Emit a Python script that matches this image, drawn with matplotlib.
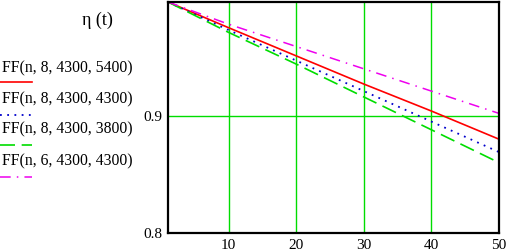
import matplotlib
matplotlib.use("Agg")
import matplotlib.pyplot as plt
from matplotlib.lines import Line2D

n = [1, 10, 20, 30, 40, 50]
ff_8_4300_5400 = [0.997, 0.975, 0.951, 0.927, 0.904, 0.880]
ff_8_4300_4300 = [0.997, 0.973, 0.947, 0.921, 0.895, 0.869]
ff_8_4300_3800 = [0.997, 0.971, 0.944, 0.916, 0.888, 0.860]
ff_6_4300_4300 = [0.997, 0.978, 0.959, 0.940, 0.921, 0.902]
labels = ["FF(n, 8, 4300, 5400)", "FF(n, 8, 4300, 4300)",
          "FF(n, 8, 4300, 3800)", "FF(n, 6, 4300, 4300)"]
xticks = [10, 20, 30, 40, 50]
yticks = [0.8, 0.9]

plt.rcParams['font.family'] = ['Liberation Serif', 'DejaVu Serif']

fig = plt.figure(figsize=(5.07, 2.52), dpi=100)
ax = fig.add_axes([168/507, 19/252, 331/507, 231/252])

series = [ff_8_4300_5400, ff_8_4300_4300, ff_8_4300_3800, ff_6_4300_4300]
styles = [dict(color='#ff0000', ls='-', lw=1.2),
          dict(color='#0000cc', ls=(0, (1, 3)), lw=1.3),
          dict(color='#00dd00', ls=(0, (9, 4)), lw=1.2),
          dict(color='#ee00ee', ls=(0, (7, 4, 1, 4)), lw=1.1)]
for ys, st in zip(series, styles):
    ax.plot(n, ys, **st)

ax.set_xlim(1, 50)
ax.set_ylim(0.8, 0.997)
ax.set_xticks(xticks)
ax.set_yticks(yticks)
ax.grid(True, color='#00dd00', lw=1.0)
ax.set_axisbelow(True)
ax.tick_params(length=0, labelsize=11, pad=4)
for s in ax.spines.values():
    s.set_color('black')
    s.set_linewidth(1.6)
ax.set_yticklabels(['0.8', '0.9'])

# legend area at left
fig.text(97/507, 1 - 20/252, "η (t)", fontsize=13, ha='center', va='center')
label_y = [68, 99, 129, 161]
line_y = [82, 115, 145, 177]
for lab, ly, sy, st in zip(labels, label_y, line_y, styles):
    fig.text(2/507, 1 - ly/252, lab, fontsize=11.3, ha='left', va='center')
    fig.add_artist(Line2D([0/507, 32/507], [1 - sy/252, 1 - sy/252],
                          transform=fig.transFigure, **st))

fig.savefig("out.png", dpi=100)
